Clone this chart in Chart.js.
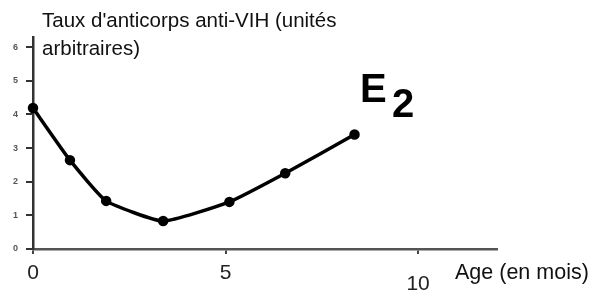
<!DOCTYPE html>
<html>
<head>
<meta charset="utf-8">
<script src="https://cdn.jsdelivr.net/npm/chart.js@4/dist/chart.umd.min.js"></script>
<style>
  html, body { margin: 0; padding: 0; background: #fff; }
  #wrap { position: relative; width: 592px; height: 293px; overflow: hidden; }
  canvas { position: absolute; left: 0; top: 0; }
  .t { position: absolute; font-family: "Liberation Sans", Arial, sans-serif; color: #111; white-space: nowrap; }
</style>
</head>
<body>
<div id="wrap">
  <canvas id="c" width="592" height="293"></canvas>
  <div class="t" id="title" style="left:42px; top:6px; font-size:20.5px; line-height:28px;">Taux d'anticorps anti-VIH (unités<br>arbitraires)</div>
  <div class="t" id="xtitle" style="left:455px; top:258px; font-size:21.5px; line-height:28px;">Age (en mois)</div>
  <div class="t" style="left:360px; top:68px; font-size:40px; line-height:40px; font-weight:bold; color:#000;">E</div>
  <div class="t" style="left:392px; top:83px; font-size:40px; line-height:40px; font-weight:bold; color:#000;">2</div>
</div>
<script>
// Data
const ages = [0, 0.96, 1.9, 3.38, 5.1, 6.55, 8.35];          // months
const antibodyLevels = [4.19, 2.64, 1.43, 0.83, 1.4, 2.25, 3.4]; // arbitrary units
const xTickValues = [0, 5, 10];
const yTickValues = [0, 1, 2, 3, 4, 5, 6];

const points = ages.map((a, i) => ({ x: a, y: antibodyLevels[i] }));

new Chart(document.getElementById('c'), {
  type: 'line',
  data: {
    datasets: [{
      data: points,
      borderColor: '#000',
      backgroundColor: '#000',
      borderWidth: 3.5,
      tension: 0.15,
      pointRadius: 3.5,
      pointBackgroundColor: '#000',
      pointBorderColor: '#000',
      clip: false
    }]
  },
  options: {
    responsive: false,
    animation: false,
    layout: { padding: { left: 0, right: 95, top: 37, bottom: 0 } },
    plugins: { legend: { display: false }, tooltip: { enabled: false } },
    scales: {
      x: {
        type: 'linear',
        min: 0,
        max: 12.05,
        afterFit: (s) => { s.height = 44; },
        afterBuildTicks: (s) => { s.ticks = xTickValues.map(v => ({ value: v })); },
        ticks: {
          includeBounds: false,
          padding: 7,
          color: '#222',
          font: (ctx) => ({
            family: '"Liberation Sans", Arial, sans-serif',
            size: 21,
            lineHeight: (ctx.tick && ctx.tick.value === 10) ? 2.2 : 1.2
          })
        },
        grid: { drawOnChartArea: false, drawTicks: true, tickLength: 5, color: '#444', lineWidth: 2 },
        border: { color: '#555', width: 2.5 }
      },
      y: {
        min: 0,
        max: 6.3,
        afterFit: (s) => { s.width = 33; },
        afterBuildTicks: (s) => { s.ticks = yTickValues.map(v => ({ value: v })); },
        ticks: {
          includeBounds: false,
          padding: 8,
          color: '#555',
          font: { family: '"Liberation Sans", Arial, sans-serif', size: 9, weight: 'bold' }
        },
        grid: { drawOnChartArea: false, drawTicks: true, tickLength: 7, color: '#333', lineWidth: 2 },
        border: { color: '#333', width: 2.5 }
      }
    }
  }
});
</script>
</body>
</html>
